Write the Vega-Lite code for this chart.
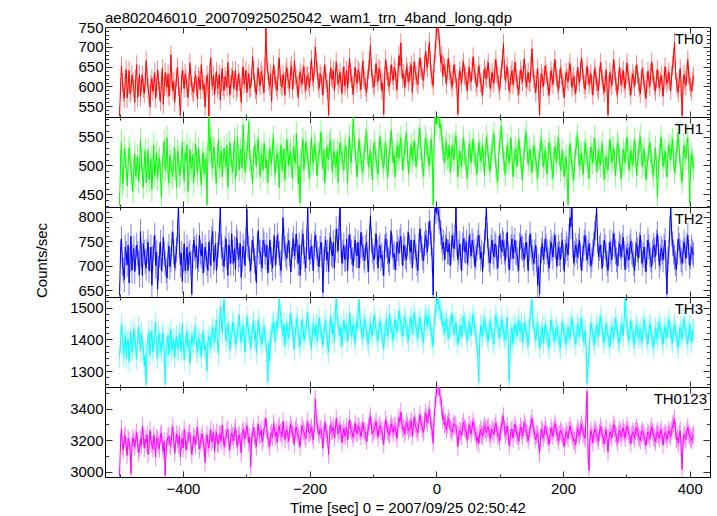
{
"$schema":"https://vega.github.io/schema/vega-lite/v6.json",
"padding":{"left":34,"top":10,"right":0,"bottom":0},
"bounds":"flush",
"spacing":0,
"title":{"text":"ae802046010_20070925025042_wam1_trn_4band_long.qdp","anchor":"start","frame":"group","offset":-6,"fontSize":15,"fontWeight":"normal","font":"Liberation Sans","color":"#000"},
"config":{"font":"Liberation Sans","view":{"stroke":"#000","strokeWidth":1},"axis":{"domain":false,"grid":false,"labelFont":"Liberation Sans","labelFontSize":15,"labelColor":"#000","tickColor":"#333","tickWidth":1,"titleFont":"Liberation Sans","titleFontSize":15,"titleFontWeight":"normal","titleColor":"#000","labelOverlap":false,"labelFlush":false}},
"data":{"values":[
{"t":-500,"a":526,"b":432,"c":640,"d":1345,"e":2975},
{"t":-498.5,"a":598,"b":505,"c":728,"d":1392,"e":3190},
{"t":-497,"a":652,"b":541,"c":755,"d":1448,"e":3272},
{"t":-495.5,"a":610,"b":468,"c":705,"d":1410,"e":3165},
{"t":-494,"a":585,"b":478,"c":690,"d":1352,"e":3140},
{"t":-492.5,"a":570,"b":530,"c":672,"d":1368,"e":3218},
{"t":-491,"a":618,"b":512,"c":738,"d":1415,"e":3230},
{"t":-489.5,"a":642,"b":495,"c":725,"d":1340,"e":3158},
{"t":-488,"a":571,"b":465,"c":702,"d":1390,"e":3105},
{"t":-486.5,"a":605,"b":502,"c":742,"d":1402,"e":3212},
{"t":-485,"a":640,"b":530,"c":665,"d":1330,"e":3195},
{"t":-483.5,"a":582,"b":518,"c":712,"d":1385,"e":3140},
{"t":-482,"a":590,"b":488,"c":760,"d":1425,"e":2990},
{"t":-480.5,"a":628,"b":478,"c":690,"d":1360,"e":3175},
{"t":-479,"a":612,"b":455,"c":718,"d":1372,"e":3215},
{"t":-477.5,"a":595,"b":498,"c":735,"d":1432,"e":3192},
{"t":-476,"a":560,"b":520,"c":688,"d":1410,"e":3160},
{"t":-474.5,"a":618,"b":482,"c":715,"d":1375,"e":3205},
{"t":-473,"a":655,"b":496,"c":742,"d":1338,"e":3248},
{"t":-471.5,"a":572,"b":515,"c":725,"d":1398,"e":3180},
{"t":-470,"a":598,"b":472,"c":705,"d":1440,"e":3120},
{"t":-468.5,"a":630,"b":492,"c":682,"d":1405,"e":3152},
{"t":-467,"a":575,"b":545,"c":770,"d":1365,"e":3205},
{"t":-465.5,"a":608,"b":510,"c":722,"d":1418,"e":3168},
{"t":-464,"a":628,"b":482,"c":680,"d":1395,"e":3290},
{"t":-462.5,"a":596,"b":462,"c":745,"d":1370,"e":3225},
{"t":-461,"a":582,"b":508,"c":728,"d":1318,"e":3150},
{"t":-459.5,"a":612,"b":525,"c":708,"d":1352,"e":3208},
{"t":-458,"a":665,"b":470,"c":695,"d":1258,"e":3185},
{"t":-456.5,"a":625,"b":498,"c":730,"d":1380,"e":3235},
{"t":-455,"a":595,"b":527,"c":748,"d":1402,"e":3110},
{"t":-453.5,"a":580,"b":475,"c":690,"d":1425,"e":3168},
{"t":-452,"a":548,"b":490,"c":712,"d":1350,"e":3262},
{"t":-450.5,"a":605,"b":512,"c":738,"d":1392,"e":3198},
{"t":-449,"a":620,"b":458,"c":660,"d":1428,"e":3175},
{"t":-447.5,"a":588,"b":495,"c":715,"d":1362,"e":3145},
{"t":-446,"a":604,"b":535,"c":735,"d":1380,"e":3230},
{"t":-444.5,"a":635,"b":482,"c":762,"d":1408,"e":3188},
{"t":-443,"a":570,"b":500,"c":700,"d":1455,"e":3095},
{"t":-441.5,"a":598,"b":522,"c":728,"d":1372,"e":3215},
{"t":-440,"a":642,"b":476,"c":652,"d":1340,"e":3200},
{"t":-438.5,"a":615,"b":505,"c":695,"d":1418,"e":3172},
{"t":-437,"a":588,"b":512,"c":722,"d":1396,"e":3148},
{"t":-435.5,"a":562,"b":488,"c":748,"d":1385,"e":3232},
{"t":-434,"a":612,"b":445,"c":690,"d":1362,"e":3245},
{"t":-432.5,"a":645,"b":498,"c":712,"d":1410,"e":3168},
{"t":-431,"a":555,"b":520,"c":758,"d":1420,"e":3130},
{"t":-429.5,"a":600,"b":542,"c":725,"d":1348,"e":3195},
{"t":-428,"a":635,"b":492,"c":705,"d":1262,"e":2978},
{"t":-426.5,"a":612,"b":508,"c":690,"d":1375,"e":3150},
{"t":-425,"a":598,"b":548,"c":675,"d":1385,"e":3192},
{"t":-423.5,"a":632,"b":485,"c":722,"d":1412,"e":3222},
{"t":-422,"a":575,"b":470,"c":740,"d":1350,"e":3225},
{"t":-420.5,"a":605,"b":518,"c":698,"d":1395,"e":3172},
{"t":-419,"a":680,"b":505,"c":712,"d":1432,"e":3160},
{"t":-417.5,"a":620,"b":488,"c":745,"d":1365,"e":3245},
{"t":-416,"a":590,"b":480,"c":768,"d":1378,"e":3285},
{"t":-414.5,"a":612,"b":512,"c":728,"d":1402,"e":3198},
{"t":-413,"a":560,"b":530,"c":696,"d":1342,"e":3118},
{"t":-411.5,"a":595,"b":495,"c":715,"d":1388,"e":3185},
{"t":-410,"a":622,"b":462,"c":732,"d":1410,"e":3240},
{"t":-408.5,"a":648,"b":525,"c":770,"d":1372,"e":3205},
{"t":-407,"a":600,"b":515,"c":825,"d":1368,"e":3172},
{"t":-405.5,"a":575,"b":482,"c":742,"d":1418,"e":3230},
{"t":-404,"a":527,"b":488,"c":702,"d":1395,"e":3095},
{"t":-402.5,"a":608,"b":510,"c":725,"d":1362,"e":3188},
{"t":-401,"a":640,"b":540,"c":668,"d":1450,"e":3210},
{"t":-399.5,"a":618,"b":498,"c":712,"d":1392,"e":3152},
{"t":-398,"a":595,"b":472,"c":745,"d":1335,"e":3268},
{"t":-396.5,"a":632,"b":522,"c":690,"d":1378,"e":3215},
{"t":-395,"a":618,"b":508,"c":710,"d":1402,"e":3138},
{"t":-393.5,"a":598,"b":535,"c":738,"d":1425,"e":3198},
{"t":-392,"a":572,"b":455,"c":690,"d":1375,"e":3195},
{"t":-390.5,"a":612,"b":488,"c":722,"d":1398,"e":3242},
{"t":-389,"a":660,"b":528,"c":728,"d":1322,"e":3250},
{"t":-387.5,"a":625,"b":505,"c":705,"d":1368,"e":3180},
{"t":-386,"a":602,"b":495,"c":642,"d":1415,"e":3110},
{"t":-384.5,"a":588,"b":520,"c":718,"d":1392,"e":3165},
{"t":-383,"a":585,"b":470,"c":752,"d":1388,"e":3225},
{"t":-381.5,"a":615,"b":498,"c":735,"d":1412,"e":3208},
{"t":-380,"a":630,"b":538,"c":718,"d":1440,"e":3170},
{"t":-378.5,"a":600,"b":512,"c":740,"d":1375,"e":3232},
{"t":-377,"a":568,"b":485,"c":695,"d":1360,"e":3280},
{"t":-375.5,"a":625,"b":528,"c":712,"d":1405,"e":3198},
{"t":-374,"a":615,"b":510,"c":762,"d":1395,"e":3145},
{"t":-372.5,"a":592,"b":492,"c":728,"d":1382,"e":3185},
{"t":-371,"a":655,"b":466,"c":720,"d":1345,"e":3212},
{"t":-369.5,"a":618,"b":508,"c":745,"d":1398,"e":3240},
{"t":-368,"a":592,"b":522,"c":685,"d":1425,"e":3188},
{"t":-366.5,"a":605,"b":485,"c":712,"d":1368,"e":3155},
{"t":-365,"a":548,"b":500,"c":738,"d":1380,"e":3060},
{"t":-363.5,"a":598,"b":512,"c":722,"d":1358,"e":3192},
{"t":-362,"a":628,"b":432,"c":705,"d":1300,"e":3235},
{"t":-360.5,"a":610,"b":520,"c":690,"d":1395,"e":3178},
{"t":-359,"a":525,"b":590,"c":748,"d":1410,"e":3150},
{"t":-357.5,"a":640,"b":525,"c":728,"d":1390,"e":3225},
{"t":-356,"a":672,"b":548,"c":700,"d":1372,"e":3265},
{"t":-354.5,"a":615,"b":505,"c":755,"d":1418,"e":3190},
{"t":-353,"a":600,"b":495,"c":770,"d":1438,"e":3205},
{"t":-351.5,"a":628,"b":532,"c":708,"d":1405,"e":3248},
{"t":-350,"a":580,"b":525,"c":716,"d":1392,"e":3130},
{"t":-348.5,"a":612,"b":488,"c":745,"d":1428,"e":3210},
{"t":-347,"a":638,"b":470,"c":690,"d":1462,"e":3250},
{"t":-345.5,"a":595,"b":515,"c":722,"d":1395,"e":3182},
{"t":-344,"a":605,"b":545,"c":742,"d":1355,"e":3175},
{"t":-342.5,"a":630,"b":498,"c":768,"d":1440,"e":3240},
{"t":-341,"a":565,"b":512,"c":822,"d":1505,"e":3228},
{"t":-339.5,"a":612,"b":525,"c":740,"d":1462,"e":3195},
{"t":-338,"a":645,"b":480,"c":725,"d":1420,"e":3298},
{"t":-336.5,"a":600,"b":508,"c":712,"d":1485,"e":3230},
{"t":-335,"a":590,"b":530,"c":698,"d":1528,"e":3160},
{"t":-333.5,"a":625,"b":512,"c":735,"d":1448,"e":3205},
{"t":-332,"a":615,"b":498,"c":755,"d":1395,"e":3215},
{"t":-330.5,"a":598,"b":535,"c":718,"d":1412,"e":3258},
{"t":-329,"a":660,"b":462,"c":680,"d":1450,"e":3270},
{"t":-327.5,"a":620,"b":502,"c":742,"d":1425,"e":3188},
{"t":-326,"a":578,"b":540,"c":728,"d":1368,"e":3140},
{"t":-324.5,"a":605,"b":518,"c":705,"d":1398,"e":3215},
{"t":-323,"a":622,"b":505,"c":765,"d":1412,"e":3245},
{"t":-321.5,"a":640,"b":488,"c":728,"d":1455,"e":3228},
{"t":-320,"a":595,"b":520,"c":705,"d":1440,"e":3195},
{"t":-318.5,"a":615,"b":545,"c":735,"d":1418,"e":3252},
{"t":-317,"a":640,"b":475,"c":692,"d":1385,"e":3280},
{"t":-315.5,"a":588,"b":502,"c":758,"d":1402,"e":3205},
{"t":-314,"a":598,"b":550,"c":748,"d":1425,"e":3160},
{"t":-312.5,"a":632,"b":515,"c":712,"d":1445,"e":3225},
{"t":-311,"a":612,"b":492,"c":722,"d":1478,"e":3235},
{"t":-309.5,"a":598,"b":528,"c":745,"d":1415,"e":3190},
{"t":-308,"a":560,"b":515,"c":676,"d":1392,"e":3120},
{"t":-306.5,"a":622,"b":495,"c":712,"d":1425,"e":3248},
{"t":-305,"a":650,"b":570,"c":740,"d":1445,"e":3268},
{"t":-303.5,"a":605,"b":525,"c":728,"d":1402,"e":3230},
{"t":-302,"a":618,"b":488,"c":700,"d":1360,"e":3212},
{"t":-300.5,"a":640,"b":508,"c":752,"d":1420,"e":3255},
{"t":-299,"a":585,"b":522,"c":815,"d":1472,"e":3292},
{"t":-297.5,"a":612,"b":540,"c":742,"d":1445,"e":3240},
{"t":-296,"a":632,"b":576,"c":735,"d":1418,"e":3185},
{"t":-294.5,"a":595,"b":512,"c":712,"d":1398,"e":3220},
{"t":-293,"a":598,"b":505,"c":690,"d":1372,"e":3030},
{"t":-291.5,"a":625,"b":495,"c":728,"d":1412,"e":3198},
{"t":-290,"a":675,"b":468,"c":752,"d":1435,"e":3248},
{"t":-288.5,"a":640,"b":512,"c":735,"d":1458,"e":3280},
{"t":-287,"a":610,"b":535,"c":710,"d":1400,"e":3225},
{"t":-285.5,"a":592,"b":520,"c":695,"d":1425,"e":3205},
{"t":-284,"a":580,"b":498,"c":665,"d":1358,"e":3160},
{"t":-282.5,"a":625,"b":530,"c":742,"d":1418,"e":3252},
{"t":-281,"a":645,"b":545,"c":772,"d":1462,"e":3302},
{"t":-279.5,"a":612,"b":505,"c":728,"d":1435,"e":3228},
{"t":-278,"a":602,"b":480,"c":728,"d":1412,"e":3238},
{"t":-276.5,"a":638,"b":518,"c":712,"d":1398,"e":3265},
{"t":-275,"a":628,"b":512,"c":695,"d":1385,"e":3190},
{"t":-273.5,"a":605,"b":492,"c":752,"d":1428,"e":3215},
{"t":-272,"a":585,"b":538,"c":745,"d":1440,"e":3275},
{"t":-270.5,"a":650,"b":522,"c":728,"d":1412,"e":3290},
{"t":-269,"a":748,"b":495,"c":718,"d":1395,"e":3340},
{"t":-267.5,"a":662,"b":510,"c":742,"d":1350,"e":3268},
{"t":-266,"a":640,"b":470,"c":685,"d":1265,"e":3215},
{"t":-264.5,"a":615,"b":505,"c":712,"d":1392,"e":3198},
{"t":-263,"a":600,"b":528,"c":752,"d":1332,"e":3160},
{"t":-261.5,"a":632,"b":515,"c":728,"d":1405,"e":3235},
{"t":-260,"a":562,"b":502,"c":712,"d":1420,"e":3248},
{"t":-258.5,"a":618,"b":535,"c":695,"d":1440,"e":3220},
{"t":-257,"a":655,"b":548,"c":738,"d":1455,"e":3305},
{"t":-255.5,"a":628,"b":498,"c":760,"d":1425,"e":3262},
{"t":-254,"a":615,"b":485,"c":700,"d":1392,"e":3228},
{"t":-252.5,"a":600,"b":512,"c":728,"d":1455,"e":3250},
{"t":-251,"a":590,"b":520,"c":762,"d":1435,"e":3185},
{"t":-249.5,"a":642,"b":505,"c":742,"d":1465,"e":3275},
{"t":-248,"a":672,"b":462,"c":725,"d":1528,"e":3290},
{"t":-246.5,"a":625,"b":518,"c":705,"d":1488,"e":3248},
{"t":-245,"a":605,"b":535,"c":690,"d":1470,"e":3252},
{"t":-243.5,"a":598,"b":492,"c":738,"d":1430,"e":3222},
{"t":-242,"a":630,"b":508,"c":798,"d":1412,"e":3320},
{"t":-240.5,"a":612,"b":528,"c":752,"d":1448,"e":3265},
{"t":-239,"a":578,"b":475,"c":735,"d":1380,"e":3205},
{"t":-237.5,"a":635,"b":512,"c":722,"d":1425,"e":3248},
{"t":-236,"a":648,"b":545,"c":715,"d":1450,"e":3268},
{"t":-234.5,"a":620,"b":525,"c":742,"d":1418,"e":3235},
{"t":-233,"a":610,"b":500,"c":752,"d":1402,"e":3195},
{"t":-231.5,"a":595,"b":518,"c":725,"d":1445,"e":3258},
{"t":-230,"a":640,"b":525,"c":688,"d":1482,"e":3302},
{"t":-228.5,"a":652,"b":498,"c":712,"d":1452,"e":3275},
{"t":-227,"a":592,"b":478,"c":742,"d":1425,"e":3240},
{"t":-225.5,"a":618,"b":532,"c":755,"d":1405,"e":3222},
{"t":-224,"a":665,"b":515,"c":720,"d":1368,"e":3175},
{"t":-222.5,"a":628,"b":505,"c":738,"d":1430,"e":3265},
{"t":-221,"a":618,"b":555,"c":765,"d":1445,"e":3285},
{"t":-219.5,"a":602,"b":522,"c":728,"d":1468,"e":3248},
{"t":-218,"a":572,"b":468,"c":705,"d":1410,"e":3230},
{"t":-216.5,"a":615,"b":498,"c":742,"d":1395,"e":3205},
{"t":-215,"a":635,"b":435,"c":680,"d":1378,"e":3160},
{"t":-213.5,"a":622,"b":512,"c":718,"d":1428,"e":3238},
{"t":-212,"a":605,"b":528,"c":748,"d":1462,"e":3295},
{"t":-210.5,"a":632,"b":545,"c":765,"d":1440,"e":3268},
{"t":-209,"a":650,"b":492,"c":728,"d":1398,"e":3255},
{"t":-207.5,"a":608,"b":515,"c":712,"d":1418,"e":3228},
{"t":-206,"a":590,"b":540,"c":695,"d":1432,"e":3210},
{"t":-204.5,"a":625,"b":525,"c":752,"d":1455,"e":3275},
{"t":-203,"a":628,"b":512,"c":822,"d":1485,"e":3318},
{"t":-201.5,"a":612,"b":498,"c":738,"d":1432,"e":3252},
{"t":-200,"a":598,"b":478,"c":712,"d":1415,"e":3245},
{"t":-198.5,"a":638,"b":522,"c":728,"d":1398,"e":3262},
{"t":-197,"a":668,"b":548,"c":740,"d":1372,"e":3280},
{"t":-195.5,"a":625,"b":512,"c":715,"d":1425,"e":3235},
{"t":-194,"a":612,"b":505,"c":690,"d":1448,"e":3202},
{"t":-192.5,"a":648,"b":538,"c":745,"d":1432,"e":3305},
{"t":-191,"a":700,"b":530,"c":762,"d":1412,"e":3462},
{"t":-189.5,"a":662,"b":505,"c":738,"d":1448,"e":3340},
{"t":-188,"a":640,"b":482,"c":725,"d":1395,"e":3300},
{"t":-186.5,"a":610,"b":518,"c":712,"d":1428,"e":3252},
{"t":-185,"a":595,"b":520,"c":698,"d":1468,"e":3235},
{"t":-183.5,"a":632,"b":535,"c":735,"d":1440,"e":3272},
{"t":-182,"a":625,"b":558,"c":748,"d":1425,"e":3265},
{"t":-180.5,"a":605,"b":512,"c":722,"d":1405,"e":3228},
{"t":-179,"a":578,"b":495,"c":645,"d":1382,"e":3150},
{"t":-177.5,"a":628,"b":528,"c":712,"d":1418,"e":3240},
{"t":-176,"a":655,"b":470,"c":735,"d":1440,"e":3312},
{"t":-174.5,"a":618,"b":502,"c":752,"d":1462,"e":3268},
{"t":-173,"a":608,"b":532,"c":712,"d":1405,"e":3248},
{"t":-171.5,"a":592,"b":515,"c":728,"d":1385,"e":3205},
{"t":-170,"a":528,"b":510,"c":688,"d":1360,"e":3110},
{"t":-168.5,"a":612,"b":538,"c":742,"d":1428,"e":3235},
{"t":-167,"a":645,"b":545,"c":758,"d":1475,"e":3295},
{"t":-165.5,"a":625,"b":512,"c":725,"d":1440,"e":3258},
{"t":-164,"a":618,"b":488,"c":720,"d":1418,"e":3262},
{"t":-162.5,"a":640,"b":522,"c":748,"d":1452,"e":3285},
{"t":-161,"a":590,"b":525,"c":695,"d":1390,"e":3215},
{"t":-159.5,"a":622,"b":498,"c":735,"d":1472,"e":3262},
{"t":-158,"a":662,"b":502,"c":775,"d":1530,"e":3338},
{"t":-156.5,"a":632,"b":525,"c":752,"d":1478,"e":3290},
{"t":-155,"a":605,"b":470,"c":730,"d":1445,"e":3240},
{"t":-153.5,"a":618,"b":512,"c":778,"d":1425,"e":3262},
{"t":-152,"a":635,"b":540,"c":822,"d":1412,"e":3298},
{"t":-150.5,"a":612,"b":528,"c":742,"d":1438,"e":3250},
{"t":-149,"a":582,"b":515,"c":705,"d":1378,"e":3185},
{"t":-147.5,"a":625,"b":505,"c":728,"d":1418,"e":3238},
{"t":-146,"a":650,"b":492,"c":742,"d":1460,"e":3275},
{"t":-144.5,"a":602,"b":525,"c":712,"d":1432,"e":3228},
{"t":-143,"a":612,"b":535,"c":715,"d":1425,"e":3250},
{"t":-141.5,"a":640,"b":512,"c":755,"d":1448,"e":3282},
{"t":-140,"a":595,"b":470,"c":690,"d":1395,"e":3205},
{"t":-138.5,"a":628,"b":528,"c":738,"d":1425,"e":3262},
{"t":-137,"a":672,"b":550,"c":762,"d":1482,"e":3330},
{"t":-135.5,"a":635,"b":515,"c":740,"d":1452,"e":3278},
{"t":-134,"a":620,"b":505,"c":728,"d":1410,"e":3262},
{"t":-132.5,"a":602,"b":548,"c":712,"d":1432,"e":3240},
{"t":-131,"a":580,"b":585,"c":700,"d":1445,"e":3218},
{"t":-129.5,"a":625,"b":540,"c":735,"d":1412,"e":3265},
{"t":-128,"a":648,"b":528,"c":752,"d":1388,"e":3305},
{"t":-126.5,"a":618,"b":502,"c":722,"d":1455,"e":3252},
{"t":-125,"a":608,"b":480,"c":720,"d":1432,"e":3245},
{"t":-123.5,"a":642,"b":518,"c":748,"d":1478,"e":3290},
{"t":-122,"a":635,"b":545,"c":695,"d":1525,"e":3280},
{"t":-120.5,"a":612,"b":525,"c":728,"d":1462,"e":3258},
{"t":-119,"a":592,"b":512,"c":768,"d":1440,"e":3225},
{"t":-117.5,"a":630,"b":498,"c":742,"d":1418,"e":3268},
{"t":-116,"a":665,"b":488,"c":735,"d":1402,"e":3310},
{"t":-114.5,"a":622,"b":515,"c":718,"d":1445,"e":3262},
{"t":-113,"a":615,"b":530,"c":710,"d":1465,"e":3258},
{"t":-111.5,"a":598,"b":545,"c":738,"d":1432,"e":3232},
{"t":-110,"a":585,"b":560,"c":748,"d":1418,"e":3195},
{"t":-108.5,"a":618,"b":522,"c":712,"d":1400,"e":3248},
{"t":-107,"a":642,"b":498,"c":688,"d":1385,"e":3285},
{"t":-105.5,"a":662,"b":512,"c":758,"d":1432,"e":3315},
{"t":-104,"a":705,"b":525,"c":802,"d":1450,"e":3352},
{"t":-102.5,"a":648,"b":502,"c":752,"d":1425,"e":3290},
{"t":-101,"a":620,"b":475,"c":730,"d":1412,"e":3240},
{"t":-99.5,"a":605,"b":518,"c":718,"d":1448,"e":3255},
{"t":-98,"a":598,"b":540,"c":712,"d":1475,"e":3272},
{"t":-96.5,"a":632,"b":525,"c":742,"d":1452,"e":3288},
{"t":-95,"a":658,"b":510,"c":765,"d":1428,"e":3318},
{"t":-93.5,"a":625,"b":498,"c":728,"d":1410,"e":3262},
{"t":-92,"a":612,"b":485,"c":695,"d":1395,"e":3220},
{"t":-90.5,"a":645,"b":522,"c":735,"d":1438,"e":3282},
{"t":-89,"a":640,"b":550,"c":742,"d":1458,"e":3295},
{"t":-87.5,"a":618,"b":532,"c":715,"d":1432,"e":3262},
{"t":-86,"a":590,"b":518,"c":722,"d":1420,"e":3258},
{"t":-84.5,"a":608,"b":505,"c":705,"d":1398,"e":3228},
{"t":-83,"a":530,"b":495,"c":680,"d":1370,"e":3175},
{"t":-81.5,"a":628,"b":522,"c":738,"d":1418,"e":3262},
{"t":-80,"a":668,"b":540,"c":755,"d":1445,"e":3330},
{"t":-78.5,"a":640,"b":512,"c":742,"d":1465,"e":3298},
{"t":-77,"a":625,"b":478,"c":728,"d":1410,"e":3262},
{"t":-75.5,"a":612,"b":502,"c":712,"d":1432,"e":3245},
{"t":-74,"a":600,"b":525,"c":705,"d":1478,"e":3235},
{"t":-72.5,"a":632,"b":538,"c":748,"d":1455,"e":3282},
{"t":-71,"a":655,"b":562,"c":770,"d":1432,"e":3305},
{"t":-69.5,"a":628,"b":525,"c":738,"d":1418,"e":3275},
{"t":-68,"a":615,"b":505,"c":718,"d":1398,"e":3248},
{"t":-66.5,"a":648,"b":518,"c":725,"d":1442,"e":3290},
{"t":-65,"a":640,"b":480,"c":692,"d":1462,"e":3285},
{"t":-63.5,"a":612,"b":508,"c":715,"d":1432,"e":3252},
{"t":-62,"a":592,"b":535,"c":748,"d":1425,"e":3212},
{"t":-60.5,"a":635,"b":522,"c":735,"d":1455,"e":3298},
{"t":-59,"a":678,"b":512,"c":725,"d":1490,"e":3342},
{"t":-57.5,"a":652,"b":535,"c":752,"d":1468,"e":3318},
{"t":-56,"a":710,"b":548,"c":760,"d":1445,"e":3380},
{"t":-54.5,"a":645,"b":518,"c":728,"d":1428,"e":3305},
{"t":-53,"a":620,"b":492,"c":700,"d":1408,"e":3268},
{"t":-51.5,"a":632,"b":512,"c":742,"d":1445,"e":3282},
{"t":-50,"a":598,"b":528,"c":735,"d":1470,"e":3240},
{"t":-48.5,"a":618,"b":540,"c":718,"d":1452,"e":3275},
{"t":-47,"a":650,"b":555,"c":712,"d":1432,"e":3315},
{"t":-45.5,"a":635,"b":522,"c":745,"d":1418,"e":3290},
{"t":-44,"a":612,"b":485,"c":768,"d":1395,"e":3262},
{"t":-42.5,"a":628,"b":510,"c":738,"d":1442,"e":3275},
{"t":-41,"a":638,"b":520,"c":728,"d":1455,"e":3290},
{"t":-39.5,"a":655,"b":535,"c":752,"d":1470,"e":3322},
{"t":-38,"a":585,"b":508,"c":695,"d":1418,"e":3225},
{"t":-36.5,"a":625,"b":522,"c":728,"d":1445,"e":3280},
{"t":-35,"a":662,"b":542,"c":752,"d":1485,"e":3348},
{"t":-33.5,"a":640,"b":525,"c":738,"d":1458,"e":3305},
{"t":-32,"a":628,"b":498,"c":720,"d":1440,"e":3280},
{"t":-30.5,"a":612,"b":515,"c":705,"d":1425,"e":3262},
{"t":-29,"a":605,"b":530,"c":690,"d":1402,"e":3245},
{"t":-27.5,"a":645,"b":548,"c":742,"d":1452,"e":3312},
{"t":-26,"a":672,"b":565,"c":775,"d":1468,"e":3360},
{"t":-24.5,"a":650,"b":532,"c":752,"d":1440,"e":3318},
{"t":-23,"a":640,"b":512,"c":735,"d":1425,"e":3295},
{"t":-21.5,"a":622,"b":498,"c":718,"d":1412,"e":3272},
{"t":-20,"a":615,"b":482,"c":710,"d":1390,"e":3250},
{"t":-18.5,"a":655,"b":525,"c":745,"d":1455,"e":3325},
{"t":-17,"a":690,"b":548,"c":762,"d":1478,"e":3372},
{"t":-15.5,"a":662,"b":535,"c":748,"d":1462,"e":3338},
{"t":-14,"a":648,"b":525,"c":728,"d":1442,"e":3310},
{"t":-12.5,"a":680,"b":512,"c":765,"d":1475,"e":3358},
{"t":-11,"a":712,"b":500,"c":790,"d":1460,"e":3395},
{"t":-9.5,"a":665,"b":528,"c":768,"d":1448,"e":3342},
{"t":-8,"a":630,"b":545,"c":745,"d":1418,"e":3285},
{"t":-6.5,"a":618,"b":512,"c":712,"d":1405,"e":3262},
{"t":-5,"a":602,"b":432,"c":640,"d":1380,"e":3180},
{"t":-3.5,"a":658,"b":540,"c":775,"d":1450,"e":3335},
{"t":-2,"a":685,"b":588,"c":822,"d":1475,"e":3420},
{"t":-0.5,"a":720,"b":575,"c":810,"d":1502,"e":3480},
{"t":1,"a":765,"b":592,"c":830,"d":1532,"e":3545},
{"t":2.5,"a":742,"b":590,"c":815,"d":1520,"e":3532},
{"t":4,"a":735,"b":586,"c":800,"d":1510,"e":3540},
{"t":5.5,"a":700,"b":565,"c":790,"d":1495,"e":3485},
{"t":7,"a":660,"b":572,"c":768,"d":1488,"e":3470},
{"t":8.5,"a":678,"b":548,"c":752,"d":1468,"e":3412},
{"t":10,"a":625,"b":530,"c":735,"d":1445,"e":3330},
{"t":11.5,"a":655,"b":522,"c":748,"d":1455,"e":3362},
{"t":13,"a":648,"b":505,"c":712,"d":1420,"e":3295},
{"t":14.5,"a":632,"b":528,"c":738,"d":1448,"e":3310},
{"t":16,"a":605,"b":540,"c":755,"d":1465,"e":3268},
{"t":17.5,"a":645,"b":512,"c":728,"d":1432,"e":3302},
{"t":19,"a":672,"b":515,"c":728,"d":1402,"e":3340},
{"t":20.5,"a":640,"b":535,"c":745,"d":1438,"e":3318},
{"t":22,"a":630,"b":488,"c":700,"d":1440,"e":3275},
{"t":23.5,"a":615,"b":512,"c":728,"d":1455,"e":3262},
{"t":25,"a":598,"b":535,"c":762,"d":1480,"e":3250},
{"t":26.5,"a":628,"b":520,"c":742,"d":1448,"e":3285},
{"t":28,"a":655,"b":510,"c":735,"d":1415,"e":3305},
{"t":29.5,"a":632,"b":538,"c":758,"d":1432,"e":3298},
{"t":31,"a":618,"b":552,"c":818,"d":1452,"e":3288},
{"t":32.5,"a":598,"b":525,"c":745,"d":1418,"e":3245},
{"t":34,"a":530,"b":480,"c":712,"d":1385,"e":3160},
{"t":35.5,"a":612,"b":505,"c":728,"d":1412,"e":3232},
{"t":37,"a":640,"b":525,"c":745,"d":1430,"e":3262},
{"t":38.5,"a":625,"b":512,"c":718,"d":1445,"e":3255},
{"t":40,"a":608,"b":498,"c":690,"d":1408,"e":3228},
{"t":41.5,"a":645,"b":528,"c":742,"d":1438,"e":3290},
{"t":43,"a":662,"b":548,"c":755,"d":1472,"e":3315},
{"t":44.5,"a":630,"b":522,"c":732,"d":1452,"e":3280},
{"t":46,"a":625,"b":512,"c":728,"d":1440,"e":3272},
{"t":47.5,"a":612,"b":495,"c":748,"d":1418,"e":3248},
{"t":49,"a":590,"b":478,"c":705,"d":1395,"e":3205},
{"t":50.5,"a":628,"b":512,"c":725,"d":1428,"e":3255},
{"t":52,"a":648,"b":538,"c":762,"d":1455,"e":3298},
{"t":53.5,"a":615,"b":522,"c":742,"d":1440,"e":3268},
{"t":55,"a":612,"b":505,"c":720,"d":1412,"e":3240},
{"t":56.5,"a":640,"b":528,"c":752,"d":1448,"e":3282},
{"t":58,"a":675,"b":545,"c":742,"d":1478,"e":3320},
{"t":59.5,"a":645,"b":518,"c":728,"d":1455,"e":3288},
{"t":61,"a":632,"b":520,"c":698,"d":1430,"e":3255},
{"t":62.5,"a":610,"b":502,"c":718,"d":1412,"e":3232},
{"t":64,"a":598,"b":485,"c":735,"d":1392,"e":3195},
{"t":65.5,"a":625,"b":512,"c":748,"d":1340,"e":3222},
{"t":67,"a":652,"b":540,"c":762,"d":1265,"e":3180},
{"t":68.5,"a":632,"b":525,"c":738,"d":1392,"e":3245},
{"t":70,"a":610,"b":508,"c":715,"d":1445,"e":3268},
{"t":71.5,"a":598,"b":520,"c":728,"d":1428,"e":3238},
{"t":73,"a":578,"b":535,"c":688,"d":1410,"e":3225},
{"t":74.5,"a":618,"b":510,"c":722,"d":1445,"e":3262},
{"t":76,"a":645,"b":482,"c":748,"d":1462,"e":3292},
{"t":77.5,"a":628,"b":518,"c":775,"d":1440,"e":3272},
{"t":79,"a":620,"b":550,"c":820,"d":1428,"e":3250},
{"t":80.5,"a":642,"b":535,"c":762,"d":1412,"e":3278},
{"t":82,"a":660,"b":515,"c":730,"d":1395,"e":3285},
{"t":83.5,"a":625,"b":502,"c":712,"d":1432,"e":3248},
{"t":85,"a":595,"b":490,"c":705,"d":1458,"e":3212},
{"t":86.5,"a":612,"b":518,"c":738,"d":1438,"e":3240},
{"t":88,"a":635,"b":528,"c":752,"d":1420,"e":3272},
{"t":89.5,"a":618,"b":542,"c":728,"d":1402,"e":3255},
{"t":91,"a":608,"b":555,"c":718,"d":1385,"e":3238},
{"t":92.5,"a":645,"b":522,"c":745,"d":1445,"e":3285},
{"t":94,"a":668,"b":500,"c":740,"d":1475,"e":3310},
{"t":95.5,"a":632,"b":488,"c":718,"d":1452,"e":3262},
{"t":97,"a":625,"b":472,"c":695,"d":1440,"e":3228},
{"t":98.5,"a":605,"b":512,"c":735,"d":1425,"e":3235},
{"t":100,"a":590,"b":540,"c":762,"d":1405,"e":3195},
{"t":101.5,"a":622,"b":550,"c":742,"d":1438,"e":3262},
{"t":103,"a":645,"b":568,"c":728,"d":1462,"e":3298},
{"t":104.5,"a":668,"b":532,"c":752,"d":1445,"e":3315},
{"t":106,"a":708,"b":512,"c":745,"d":1425,"e":3352},
{"t":107.5,"a":642,"b":502,"c":728,"d":1412,"e":3272},
{"t":109,"a":615,"b":485,"c":710,"d":1398,"e":3232},
{"t":110.5,"a":632,"b":512,"c":742,"d":1432,"e":3258},
{"t":112,"a":650,"b":535,"c":768,"d":1470,"e":3290},
{"t":113.5,"a":618,"b":520,"c":722,"d":1395,"e":3235},
{"t":115,"a":588,"b":505,"c":692,"d":1268,"e":3165},
{"t":116.5,"a":605,"b":528,"c":715,"d":1362,"e":3215},
{"t":118,"a":628,"b":548,"c":738,"d":1418,"e":3258},
{"t":119.5,"a":640,"b":512,"c":755,"d":1440,"e":3272},
{"t":121,"a":605,"b":480,"c":715,"d":1385,"e":3215},
{"t":122.5,"a":622,"b":505,"c":738,"d":1418,"e":3248},
{"t":124,"a":662,"b":522,"c":752,"d":1448,"e":3302},
{"t":125.5,"a":635,"b":530,"c":728,"d":1432,"e":3275},
{"t":127,"a":618,"b":498,"c":725,"d":1410,"e":3240},
{"t":128.5,"a":600,"b":518,"c":712,"d":1440,"e":3228},
{"t":130,"a":580,"b":545,"c":690,"d":1462,"e":3195},
{"t":131.5,"a":615,"b":528,"c":742,"d":1425,"e":3245},
{"t":133,"a":642,"b":512,"c":758,"d":1425,"e":3285},
{"t":134.5,"a":628,"b":495,"c":738,"d":1448,"e":3262},
{"t":136,"a":612,"b":475,"c":735,"d":1392,"e":3228},
{"t":137.5,"a":645,"b":510,"c":722,"d":1418,"e":3268},
{"t":139,"a":670,"b":530,"c":712,"d":1455,"e":3310},
{"t":140.5,"a":632,"b":545,"c":742,"d":1438,"e":3282},
{"t":142,"a":598,"b":558,"c":748,"d":1418,"e":3252},
{"t":143.5,"a":618,"b":525,"c":722,"d":1405,"e":3240},
{"t":145,"a":635,"b":502,"c":690,"d":1380,"e":3198},
{"t":146.5,"a":612,"b":515,"c":735,"d":1428,"e":3232},
{"t":148,"a":610,"b":528,"c":765,"d":1472,"e":3275},
{"t":149.5,"a":652,"b":505,"c":742,"d":1495,"e":3305},
{"t":151,"a":695,"b":488,"c":728,"d":1525,"e":3338},
{"t":152.5,"a":645,"b":512,"c":715,"d":1462,"e":3290},
{"t":154,"a":620,"b":535,"c":705,"d":1435,"e":3262},
{"t":155.5,"a":605,"b":522,"c":728,"d":1412,"e":3228},
{"t":157,"a":585,"b":510,"c":742,"d":1398,"e":3205},
{"t":158.5,"a":618,"b":495,"c":712,"d":1430,"e":3238},
{"t":160,"a":645,"b":478,"c":660,"d":1455,"e":3240},
{"t":161.5,"a":595,"b":505,"c":698,"d":1412,"e":3195},
{"t":163,"a":528,"b":520,"c":642,"d":1372,"e":3120},
{"t":164.5,"a":610,"b":532,"c":712,"d":1405,"e":3215},
{"t":166,"a":632,"b":545,"c":730,"d":1420,"e":3268},
{"t":167.5,"a":618,"b":518,"c":745,"d":1440,"e":3252},
{"t":169,"a":600,"b":498,"c":712,"d":1388,"e":3215},
{"t":170.5,"a":628,"b":512,"c":728,"d":1418,"e":3245},
{"t":172,"a":652,"b":525,"c":755,"d":1445,"e":3290},
{"t":173.5,"a":632,"b":505,"c":738,"d":1428,"e":3262},
{"t":175,"a":615,"b":485,"c":728,"d":1410,"e":3232},
{"t":176.5,"a":598,"b":520,"c":712,"d":1392,"e":3215},
{"t":178,"a":578,"b":540,"c":695,"d":1372,"e":3175},
{"t":179.5,"a":612,"b":528,"c":728,"d":1425,"e":3232},
{"t":181,"a":640,"b":512,"c":748,"d":1462,"e":3280},
{"t":182.5,"a":625,"b":495,"c":735,"d":1440,"e":3255},
{"t":184,"a":605,"b":478,"c":718,"d":1425,"e":3225},
{"t":185.5,"a":635,"b":512,"c":742,"d":1412,"e":3268},
{"t":187,"a":668,"b":532,"c":762,"d":1395,"e":3305},
{"t":188.5,"a":642,"b":520,"c":738,"d":1428,"e":3282},
{"t":190,"a":622,"b":505,"c":700,"d":1440,"e":3248},
{"t":191.5,"a":605,"b":532,"c":722,"d":1418,"e":3225},
{"t":193,"a":590,"b":548,"c":738,"d":1408,"e":3198},
{"t":194.5,"a":620,"b":518,"c":725,"d":1392,"e":3238},
{"t":196,"a":645,"b":492,"c":712,"d":1372,"e":3262},
{"t":197.5,"a":628,"b":508,"c":742,"d":1425,"e":3248},
{"t":199,"a":608,"b":525,"c":752,"d":1455,"e":3230},
{"t":200.5,"a":598,"b":502,"c":718,"d":1432,"e":3212},
{"t":202,"a":572,"b":480,"c":688,"d":1418,"e":3160},
{"t":203.5,"a":615,"b":505,"c":728,"d":1402,"e":3228},
{"t":205,"a":635,"b":515,"c":745,"d":1385,"e":3255},
{"t":206.5,"a":620,"b":478,"c":735,"d":1418,"e":3235},
{"t":208,"a":612,"b":432,"c":722,"d":1438,"e":3212},
{"t":209.5,"a":640,"b":512,"c":760,"d":1420,"e":3262},
{"t":211,"a":658,"b":538,"c":798,"d":1402,"e":3290},
{"t":212.5,"a":628,"b":520,"c":780,"d":1442,"e":3262},
{"t":214,"a":598,"b":502,"c":820,"d":1465,"e":3238},
{"t":215.5,"a":612,"b":490,"c":742,"d":1440,"e":3222},
{"t":217,"a":625,"b":475,"c":705,"d":1422,"e":3195},
{"t":218.5,"a":602,"b":508,"c":725,"d":1405,"e":3205},
{"t":220,"a":582,"b":528,"c":742,"d":1385,"e":3170},
{"t":221.5,"a":615,"b":538,"c":730,"d":1418,"e":3238},
{"t":223,"a":648,"b":552,"c":718,"d":1448,"e":3275},
{"t":224.5,"a":625,"b":522,"c":740,"d":1432,"e":3252},
{"t":226,"a":610,"b":498,"c":752,"d":1410,"e":3228},
{"t":227.5,"a":638,"b":512,"c":722,"d":1442,"e":3262},
{"t":229,"a":672,"b":520,"c":690,"d":1468,"e":3302},
{"t":230.5,"a":645,"b":502,"c":715,"d":1432,"e":3275},
{"t":232,"a":620,"b":485,"c":735,"d":1392,"e":3245},
{"t":233.5,"a":605,"b":518,"c":748,"d":1412,"e":3228},
{"t":235,"a":592,"b":540,"c":762,"d":1428,"e":3212},
{"t":236.5,"a":628,"b":525,"c":735,"d":1365,"e":3380},
{"t":238,"a":650,"b":510,"c":712,"d":1262,"e":3510},
{"t":239.5,"a":625,"b":495,"c":728,"d":1320,"e":3120},
{"t":241,"a":605,"b":478,"c":745,"d":1345,"e":3010},
{"t":242.5,"a":618,"b":512,"c":722,"d":1418,"e":3215},
{"t":244,"a":632,"b":532,"c":700,"d":1450,"e":3262},
{"t":245.5,"a":605,"b":518,"c":712,"d":1432,"e":3232},
{"t":247,"a":578,"b":505,"c":728,"d":1415,"e":3185},
{"t":248.5,"a":615,"b":528,"c":745,"d":1398,"e":3238},
{"t":250,"a":645,"b":548,"c":765,"d":1382,"e":3270},
{"t":251.5,"a":628,"b":520,"c":778,"d":1425,"e":3252},
{"t":253,"a":612,"b":490,"c":820,"d":1445,"e":3238},
{"t":254.5,"a":598,"b":508,"c":752,"d":1422,"e":3218},
{"t":256,"a":590,"b":525,"c":718,"d":1408,"e":3195},
{"t":257.5,"a":625,"b":512,"c":735,"d":1445,"e":3248},
{"t":259,"a":660,"b":500,"c":742,"d":1472,"e":3288},
{"t":260.5,"a":638,"b":522,"c":718,"d":1448,"e":3262},
{"t":262,"a":618,"b":538,"c":695,"d":1425,"e":3232},
{"t":263.5,"a":602,"b":505,"c":725,"d":1405,"e":3212},
{"t":265,"a":585,"b":475,"c":752,"d":1390,"e":3178},
{"t":266.5,"a":612,"b":498,"c":738,"d":1422,"e":3232},
{"t":268,"a":642,"b":515,"c":722,"d":1450,"e":3268},
{"t":269.5,"a":598,"b":505,"c":705,"d":1425,"e":3205},
{"t":271,"a":528,"b":492,"c":690,"d":1412,"e":3125},
{"t":272.5,"a":605,"b":522,"c":722,"d":1398,"e":3218},
{"t":274,"a":635,"b":545,"c":748,"d":1378,"e":3255},
{"t":275.5,"a":618,"b":525,"c":728,"d":1418,"e":3240},
{"t":277,"a":602,"b":505,"c":712,"d":1440,"e":3218},
{"t":278.5,"a":632,"b":515,"c":745,"d":1425,"e":3262},
{"t":280,"a":668,"b":530,"c":765,"d":1405,"e":3300},
{"t":281.5,"a":640,"b":505,"c":742,"d":1438,"e":3278},
{"t":283,"a":612,"b":482,"c":728,"d":1465,"e":3242},
{"t":284.5,"a":598,"b":515,"c":712,"d":1442,"e":3222},
{"t":286,"a":580,"b":540,"c":700,"d":1420,"e":3190},
{"t":287.5,"a":615,"b":528,"c":725,"d":1398,"e":3235},
{"t":289,"a":648,"b":512,"c":745,"d":1388,"e":3265},
{"t":290.5,"a":625,"b":495,"c":738,"d":1422,"e":3248},
{"t":292,"a":605,"b":478,"c":718,"d":1448,"e":3222},
{"t":293.5,"a":622,"b":505,"c":742,"d":1430,"e":3255},
{"t":295,"a":640,"b":528,"c":758,"d":1412,"e":3278},
{"t":296.5,"a":612,"b":518,"c":725,"d":1462,"e":3245},
{"t":298,"a":595,"b":505,"c":692,"d":1528,"e":3215},
{"t":299.5,"a":628,"b":532,"c":718,"d":1475,"e":3262},
{"t":301,"a":660,"b":548,"c":735,"d":1438,"e":3290},
{"t":302.5,"a":632,"b":520,"c":722,"d":1415,"e":3262},
{"t":304,"a":615,"b":492,"c":712,"d":1395,"e":3235},
{"t":305.5,"a":598,"b":508,"c":738,"d":1425,"e":3218},
{"t":307,"a":578,"b":525,"c":750,"d":1458,"e":3180},
{"t":308.5,"a":612,"b":512,"c":728,"d":1432,"e":3232},
{"t":310,"a":632,"b":500,"c":722,"d":1418,"e":3255},
{"t":311.5,"a":618,"b":525,"c":705,"d":1402,"e":3238},
{"t":313,"a":600,"b":545,"c":690,"d":1382,"e":3212},
{"t":314.5,"a":628,"b":518,"c":725,"d":1425,"e":3258},
{"t":316,"a":655,"b":482,"c":745,"d":1445,"e":3282},
{"t":317.5,"a":632,"b":505,"c":732,"d":1428,"e":3255},
{"t":319,"a":612,"b":520,"c":715,"d":1405,"e":3228},
{"t":320.5,"a":598,"b":538,"c":742,"d":1418,"e":3215},
{"t":322,"a":582,"b":550,"c":762,"d":1432,"e":3198},
{"t":323.5,"a":615,"b":522,"c":728,"d":1412,"e":3240},
{"t":325,"a":645,"b":498,"c":705,"d":1390,"e":3262},
{"t":326.5,"a":625,"b":515,"c":722,"d":1438,"e":3248},
{"t":328,"a":605,"b":528,"c":738,"d":1462,"e":3225},
{"t":329.5,"a":592,"b":502,"c":712,"d":1440,"e":3200},
{"t":331,"a":570,"b":475,"c":688,"d":1420,"e":3168},
{"t":332.5,"a":612,"b":498,"c":728,"d":1402,"e":3225},
{"t":334,"a":638,"b":512,"c":752,"d":1385,"e":3250},
{"t":335.5,"a":618,"b":528,"c":738,"d":1425,"e":3235},
{"t":337,"a":600,"b":540,"c":722,"d":1448,"e":3210},
{"t":338.5,"a":632,"b":518,"c":712,"d":1432,"e":3258},
{"t":340,"a":662,"b":505,"c":698,"d":1410,"e":3285},
{"t":341.5,"a":635,"b":495,"c":728,"d":1392,"e":3252},
{"t":343,"a":615,"b":482,"c":742,"d":1372,"e":3222},
{"t":344.5,"a":602,"b":512,"c":732,"d":1412,"e":3215},
{"t":346,"a":588,"b":530,"c":718,"d":1435,"e":3192},
{"t":347.5,"a":620,"b":498,"c":748,"d":1422,"e":3238},
{"t":349,"a":642,"b":445,"c":765,"d":1402,"e":3255},
{"t":350.5,"a":618,"b":492,"c":735,"d":1432,"e":3232},
{"t":352,"a":598,"b":515,"c":700,"d":1455,"e":3215},
{"t":353.5,"a":612,"b":532,"c":718,"d":1438,"e":3245},
{"t":355,"a":628,"b":548,"c":735,"d":1418,"e":3268},
{"t":356.5,"a":602,"b":520,"c":728,"d":1402,"e":3222},
{"t":358,"a":575,"b":498,"c":712,"d":1385,"e":3170},
{"t":359.5,"a":615,"b":512,"c":738,"d":1425,"e":3228},
{"t":361,"a":650,"b":525,"c":752,"d":1440,"e":3248},
{"t":362.5,"a":625,"b":502,"c":705,"d":1418,"e":3232},
{"t":364,"a":608,"b":480,"c":642,"d":1405,"e":3205},
{"t":365.5,"a":618,"b":518,"c":712,"d":1438,"e":3238},
{"t":367,"a":635,"b":535,"c":728,"d":1462,"e":3262},
{"t":368.5,"a":612,"b":522,"c":775,"d":1440,"e":3242},
{"t":370,"a":590,"b":510,"c":820,"d":1420,"e":3225},
{"t":371.5,"a":628,"b":532,"c":765,"d":1405,"e":3262},
{"t":373,"a":652,"b":545,"c":745,"d":1390,"e":3290},
{"t":374.5,"a":672,"b":512,"c":728,"d":1428,"e":3308},
{"t":376,"a":712,"b":488,"c":718,"d":1448,"e":3335},
{"t":377.5,"a":640,"b":505,"c":705,"d":1425,"e":3262},
{"t":379,"a":610,"b":522,"c":692,"d":1410,"e":3205},
{"t":380.5,"a":598,"b":538,"c":728,"d":1392,"e":3215},
{"t":382,"a":585,"b":555,"c":755,"d":1375,"e":3182},
{"t":383.5,"a":620,"b":525,"c":742,"d":1412,"e":3238},
{"t":385,"a":645,"b":500,"c":728,"d":1438,"e":3262},
{"t":386.5,"a":595,"b":488,"c":712,"d":1420,"e":3148},
{"t":388,"a":526,"b":472,"c":705,"d":1402,"e":3015},
{"t":389.5,"a":602,"b":512,"c":728,"d":1432,"e":3195},
{"t":391,"a":630,"b":535,"c":748,"d":1465,"e":3238},
{"t":392.5,"a":615,"b":522,"c":732,"d":1440,"e":3222},
{"t":394,"a":602,"b":512,"c":715,"d":1420,"e":3205},
{"t":395.5,"a":635,"b":532,"c":742,"d":1405,"e":3258},
{"t":397,"a":668,"b":548,"c":762,"d":1385,"e":3282},
{"t":398.5,"a":628,"b":505,"c":728,"d":1428,"e":3242},
{"t":400,"a":612,"b":435,"c":700,"d":1445,"e":3225},
{"t":401.5,"a":598,"b":502,"c":718,"d":1418,"e":3212},
{"t":403,"a":588,"b":520,"c":738,"d":1392,"e":3198},
{"t":404.5,"a":612,"b":508,"c":728,"d":1425,"e":3225},
{"t":406,"a":625,"b":495,"c":722,"d":1430,"e":3235}
]},
"vconcat":[
{"width":605,"height":90,
 "layer":[
  {"mark":{"type":"tick","orient":"vertical","size":19,"thickness":1,"color":"#ff0000","opacity":0.5,"clip":true},
   "encoding":{"x":{"field":"t","type":"quantitative","scale":{"domain":[-523,432],"nice":false,"zero":false},"axis":null},"y":{"field":"a","type":"quantitative","scale":{"domain":[523,750],"nice":false,"zero":false},"axis":null}}},
  {"mark":{"type":"line","color":"#ff0000","strokeWidth":1,"clip":true},
   "encoding":{
    "x":{"field":"t","type":"quantitative","axis":{"orient":"bottom","values":[-500,-400,-300,-200,-100,0,100,200,300,400],"labels":false,"title":null,"tickSize":{"condition":{"test":"datum.value % 200 === 0","value":-6},"value":-3}}},
    "y":{"field":"a","type":"quantitative","axis":{"orient":"left","values":[530,540,550,560,570,580,590,600,610,620,630,640,650,660,670,680,690,700,710,720,730,740,750],"format":"d","labelExpr":"datum.value % 50 === 0 ? datum.label : ''","labelPadding":9,"title":null,"tickSize":{"condition":{"test":"datum.value % 50 === 0","value":-7},"value":-3.5}}}}},
  {"mark":{"type":"line","opacity":0,"clip":true},
   "encoding":{
    "x":{"field":"t","type":"quantitative","axis":{"orient":"top","values":[-500,-400,-300,-200,-100,0,100,200,300,400],"labels":false,"title":null,"tickSize":{"condition":{"test":"datum.value % 200 === 0","value":-6},"value":-3}}},
    "y":{"field":"a","type":"quantitative","axis":{"orient":"right","values":[530,540,550,560,570,580,590,600,610,620,630,640,650,660,670,680,690,700,710,720,730,740,750],"labels":false,"title":null,"tickSize":{"condition":{"test":"datum.value % 50 === 0","value":-7},"value":-3.5}}}}},
  {"data":{"values":[{"lab":"TH0"}]},
   "mark":{"type":"text","align":"right","baseline":"top","dx":-7,"dy":5,"fontSize":15,"font":"Liberation Sans","color":"#000"},
   "encoding":{"x":{"datum":432,"type":"quantitative","axis":null},"y":{"datum":750,"type":"quantitative","axis":null},"text":{"field":"lab","type":"nominal"}}}
 ],
 "resolve":{"axis":{"x":"independent","y":"independent"}}},
{"width":605,"height":90,
 "layer":[
  {"mark":{"type":"tick","orient":"vertical","size":24,"thickness":1,"color":"#00ff00","opacity":0.5,"clip":true},
   "encoding":{"x":{"field":"t","type":"quantitative","scale":{"domain":[-523,432],"nice":false,"zero":false},"axis":null},"y":{"field":"b","type":"quantitative","scale":{"domain":[428,584],"nice":false,"zero":false},"axis":null}}},
  {"mark":{"type":"line","color":"#00ff00","strokeWidth":1,"clip":true},
   "encoding":{
    "x":{"field":"t","type":"quantitative","axis":{"orient":"bottom","values":[-500,-400,-300,-200,-100,0,100,200,300,400],"labels":false,"title":null,"tickSize":{"condition":{"test":"datum.value % 200 === 0","value":-6},"value":-3}}},
    "y":{"field":"b","type":"quantitative","axis":{"orient":"left","values":[430,440,450,460,470,480,490,500,510,520,530,540,550,560,570,580],"format":"d","labelExpr":"datum.value % 50 === 0 ? datum.label : ''","labelPadding":9,"title":null,"tickSize":{"condition":{"test":"datum.value % 50 === 0","value":-7},"value":-3.5}}}}},
  {"mark":{"type":"line","opacity":0,"clip":true},
   "encoding":{
    "x":{"field":"t","type":"quantitative","axis":{"orient":"top","values":[-500,-400,-300,-200,-100,0,100,200,300,400],"labels":false,"title":null,"tickSize":{"condition":{"test":"datum.value % 200 === 0","value":-6},"value":-3}}},
    "y":{"field":"b","type":"quantitative","axis":{"orient":"right","values":[430,440,450,460,470,480,490,500,510,520,530,540,550,560,570,580],"labels":false,"title":null,"tickSize":{"condition":{"test":"datum.value % 50 === 0","value":-7},"value":-3.5}}}}},
  {"data":{"values":[{"lab":"TH1"}]},
   "mark":{"type":"text","align":"right","baseline":"top","dx":-7,"dy":5,"fontSize":15,"font":"Liberation Sans","color":"#000"},
   "encoding":{"x":{"datum":432,"type":"quantitative","axis":null},"y":{"datum":584,"type":"quantitative","axis":null},"text":{"field":"lab","type":"nominal"}}}
 ],
 "resolve":{"axis":{"x":"independent","y":"independent"}}},
{"width":605,"height":90,
 "layer":[
  {"mark":{"type":"tick","orient":"vertical","size":25,"thickness":1,"color":"#0000ff","opacity":0.5,"clip":true},
   "encoding":{"x":{"field":"t","type":"quantitative","scale":{"domain":[-523,432],"nice":false,"zero":false},"axis":null},"y":{"field":"c","type":"quantitative","scale":{"domain":[636,820],"nice":false,"zero":false},"axis":null}}},
  {"mark":{"type":"line","color":"#0000ff","strokeWidth":1,"clip":true},
   "encoding":{
    "x":{"field":"t","type":"quantitative","axis":{"orient":"bottom","values":[-500,-400,-300,-200,-100,0,100,200,300,400],"labels":false,"title":null,"tickSize":{"condition":{"test":"datum.value % 200 === 0","value":-6},"value":-3}}},
    "y":{"field":"c","type":"quantitative","axis":{"orient":"left","values":[640,650,660,670,680,690,700,710,720,730,740,750,760,770,780,790,800,810,820],"format":"d","labelExpr":"datum.value % 50 === 0 ? datum.label : ''","labelPadding":9,"title":"Counts/sec","titleY":53,"titlePadding":28,"tickSize":{"condition":{"test":"datum.value % 50 === 0","value":-7},"value":-3.5}}}}},
  {"mark":{"type":"line","opacity":0,"clip":true},
   "encoding":{
    "x":{"field":"t","type":"quantitative","axis":{"orient":"top","values":[-500,-400,-300,-200,-100,0,100,200,300,400],"labels":false,"title":null,"tickSize":{"condition":{"test":"datum.value % 200 === 0","value":-6},"value":-3}}},
    "y":{"field":"c","type":"quantitative","axis":{"orient":"right","values":[640,650,660,670,680,690,700,710,720,730,740,750,760,770,780,790,800,810,820],"labels":false,"title":null,"tickSize":{"condition":{"test":"datum.value % 50 === 0","value":-7},"value":-3.5}}}}},
  {"data":{"values":[{"lab":"TH2"}]},
   "mark":{"type":"text","align":"right","baseline":"top","dx":-7,"dy":5,"fontSize":15,"font":"Liberation Sans","color":"#000"},
   "encoding":{"x":{"datum":432,"type":"quantitative","axis":null},"y":{"datum":820,"type":"quantitative","axis":null},"text":{"field":"lab","type":"nominal"}}}
 ],
 "resolve":{"axis":{"x":"independent","y":"independent"}}},
{"width":605,"height":90,
 "layer":[
  {"mark":{"type":"tick","orient":"vertical","size":22,"thickness":1,"color":"#00ffff","opacity":0.5,"clip":true},
   "encoding":{"x":{"field":"t","type":"quantitative","scale":{"domain":[-523,432],"nice":false,"zero":false},"axis":null},"y":{"field":"d","type":"quantitative","scale":{"domain":[1250,1534],"nice":false,"zero":false},"axis":null}}},
  {"mark":{"type":"line","color":"#00ffff","strokeWidth":1,"clip":true},
   "encoding":{
    "x":{"field":"t","type":"quantitative","axis":{"orient":"bottom","values":[-500,-400,-300,-200,-100,0,100,200,300,400],"labels":false,"title":null,"tickSize":{"condition":{"test":"datum.value % 200 === 0","value":-6},"value":-3}}},
    "y":{"field":"d","type":"quantitative","axis":{"orient":"left","values":[1260,1280,1300,1320,1340,1360,1380,1400,1420,1440,1460,1480,1500,1520],"format":"d","labelExpr":"datum.value % 100 === 0 ? datum.label : ''","labelPadding":9,"title":null,"tickSize":{"condition":{"test":"datum.value % 100 === 0","value":-7},"value":-3.5}}}}},
  {"mark":{"type":"line","opacity":0,"clip":true},
   "encoding":{
    "x":{"field":"t","type":"quantitative","axis":{"orient":"top","values":[-500,-400,-300,-200,-100,0,100,200,300,400],"labels":false,"title":null,"tickSize":{"condition":{"test":"datum.value % 200 === 0","value":-6},"value":-3}}},
    "y":{"field":"d","type":"quantitative","axis":{"orient":"right","values":[1260,1280,1300,1320,1340,1360,1380,1400,1420,1440,1460,1480,1500,1520],"labels":false,"title":null,"tickSize":{"condition":{"test":"datum.value % 100 === 0","value":-7},"value":-3.5}}}}},
  {"data":{"values":[{"lab":"TH3"}]},
   "mark":{"type":"text","align":"right","baseline":"top","dx":-7,"dy":5,"fontSize":15,"font":"Liberation Sans","color":"#000"},
   "encoding":{"x":{"datum":432,"type":"quantitative","axis":null},"y":{"datum":1534,"type":"quantitative","axis":null},"text":{"field":"lab","type":"nominal"}}}
 ],
 "resolve":{"axis":{"x":"independent","y":"independent"}}},
{"width":605,"height":90,
 "layer":[
  {"mark":{"type":"tick","orient":"vertical","size":18,"thickness":1,"color":"#ff00ff","opacity":0.5,"clip":true},
   "encoding":{"x":{"field":"t","type":"quantitative","scale":{"domain":[-523,432],"nice":false,"zero":false},"axis":null},"y":{"field":"e","type":"quantitative","scale":{"domain":[2968,3537],"nice":false,"zero":false},"axis":null}}},
  {"mark":{"type":"line","color":"#ff00ff","strokeWidth":1,"clip":true},
   "encoding":{
    "x":{"field":"t","type":"quantitative","axis":{"orient":"bottom","values":[-500,-400,-300,-200,-100,0,100,200,300,400],"format":"d","labelExpr":"datum.value % 200 === 0 ? datum.label : ''","labelPadding":10,"title":"Time [sec] 0 = 2007/09/25 02:50:42","titlePadding":1,"tickSize":{"condition":{"test":"datum.value % 200 === 0","value":-6},"value":-3}}},
    "y":{"field":"e","type":"quantitative","axis":{"orient":"left","values":[3000,3100,3200,3300,3400,3500],"format":"d","labelExpr":"datum.value % 200 === 0 ? datum.label : ''","labelPadding":9,"title":null,"tickSize":{"condition":{"test":"datum.value % 200 === 0","value":-7},"value":-3.5}}}}},
  {"mark":{"type":"line","opacity":0,"clip":true},
   "encoding":{
    "x":{"field":"t","type":"quantitative","axis":{"orient":"top","values":[-500,-400,-300,-200,-100,0,100,200,300,400],"labels":false,"title":null,"tickSize":{"condition":{"test":"datum.value % 200 === 0","value":-6},"value":-3}}},
    "y":{"field":"e","type":"quantitative","axis":{"orient":"right","values":[3000,3100,3200,3300,3400,3500],"labels":false,"title":null,"tickSize":{"condition":{"test":"datum.value % 200 === 0","value":-7},"value":-3.5}}}}},
  {"data":{"values":[{"lab":"TH0123"}]},
   "mark":{"type":"text","align":"right","baseline":"top","dx":-3,"dy":5,"fontSize":15,"font":"Liberation Sans","color":"#000"},
   "encoding":{"x":{"datum":432,"type":"quantitative","axis":null},"y":{"datum":3537,"type":"quantitative","axis":null},"text":{"field":"lab","type":"nominal"}}}
 ],
 "resolve":{"axis":{"x":"independent","y":"independent"}}}
]
}
